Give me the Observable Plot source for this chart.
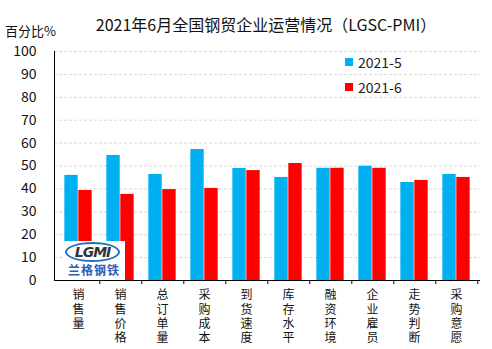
<!DOCTYPE html>
<html><head><meta charset="utf-8">
<script src="https://cdn.jsdelivr.net/npm/d3@7"></script>
<script src="https://cdn.jsdelivr.net/npm/@observablehq/plot@0.6"></script>
<style>
html,body{margin:0;padding:0;background:#fff;}
#wrap{position:relative;width:492px;height:349px;font-family:"Noto Sans CJK SC","Noto Sans",sans-serif;overflow:hidden;}
#title{position:absolute;left:0;width:532px;top:12px;text-align:center;font-size:16px;color:#111;white-space:nowrap;}
#unit{position:absolute;left:5px;top:21px;font-size:13px;color:#111;}
.leg{position:absolute;left:345px;font-size:14px;color:#222;display:flex;align-items:center;}
.leg span.sw{display:inline-block;width:8px;height:8px;margin-right:5px;}
#logo{position:absolute;left:62px;top:241px;width:63px;height:39px;background:#fff;}
#logo .ell{position:absolute;left:3px;top:1px;width:55px;height:20px;border-radius:50%;border:2px solid #1f6fc0;box-sizing:border-box;text-align:center;font:bold italic 14px/16px "DejaVu Sans",sans-serif;color:#333;letter-spacing:-1px;}
#logo .cn{position:absolute;left:2px;top:21px;width:60px;text-align:center;font:bold 12px/16px "Noto Sans CJK SC",sans-serif;color:#2a5db8;letter-spacing:1px;}
</style></head>
<body><div id="wrap">
<div id="title">2021年6月全国钢贸企业运营情况（LGSC-PMI）</div>
<div id="unit">百分比%</div>
<div id="chart"></div>
<div id="legend"></div>
<div id="logo"><div class="ell">LGMI</div><div class="cn">兰格钢铁</div></div>
</div>
<script>
const categories = ["销售量","销售价格","总订单量","采购成本","到货速度","库存水平","融资环境","企业雇员","走势判断","采购意愿"];
const seriesNames = ["2021-5","2021-6"];
const may2021 = [45.9,54.6,46.3,57.2,48.9,45.0,49.0,49.9,42.8,46.3];
const jun2021 = [39.3,37.6,39.7,40.2,48.0,51.1,49.0,49.0,43.7,45.0];
const yTicks = [0,10,20,30,40,50,60,70,80,90,100];
const colors = ["#00B0F0","#FF0000"];

const rows = [];
categories.forEach((c,i)=>{
  rows.push({category:c, series:seriesNames[0], value:may2021[i]});
  rows.push({category:c, series:seriesNames[1], value:jun2021[i]});
});

const W = 492, H = 349, mL = 54, mR = 12, mT = 51, mB = 69;
const step = (W - mL - mR) / categories.length;
const gap = step * 0.172, bw = step * 0.328;

const chart = Plot.plot({
  width: W, height: H,
  marginLeft: mL, marginRight: mR, marginTop: mT, marginBottom: mB,
  style: {fontFamily: '"Noto Sans CJK SC","Noto Sans",sans-serif', fontSize: "13px", color: "#111", background: "#fff"},
  x: {type: "band", domain: categories, padding: 0},
  y: {domain: [0, 100]},
  marks: [
    Plot.gridY({ticks: yTicks, stroke: "#d9d9d9", strokeOpacity: 1, strokeDasharray: "3,2"}),
    Plot.barY(rows.filter(d => d.series === seriesNames[0]), {x: "category", y: "value", fill: colors[0], insetLeft: gap, insetRight: gap + bw}),
    Plot.barY(rows.filter(d => d.series === seriesNames[1]), {x: "category", y: "value", fill: colors[1], insetLeft: gap + bw, insetRight: gap}),
    Plot.axisY({ticks: yTicks, tickSize: 0, tickPadding: 18, fontSize: 14, label: null}),
    Plot.axisX({tickSize: 0, tickPadding: 9, fontSize: 12, lineHeight: 1.17, label: null, tickFormat: d => d.split("").join("\n")}),
    Plot.axisX({tickSize: 4, tickFormat: () => "", label: null, dx: step / 2, stroke: "#000"}),
    Plot.ruleY([0], {stroke: "#000"}),
    Plot.frame({anchor: "left", stroke: "#000"})
  ]
});
document.getElementById("chart").appendChild(chart);

const leg = document.getElementById("legend");
seriesNames.forEach((s,i)=>{
  const d = document.createElement("div");
  d.className = "leg";
  d.style.top = (52 + i*25) + "px";
  d.innerHTML = `<span class="sw" style="background:${colors[i]}"></span>${s}`;
  leg.appendChild(d);
});
</script>
</body></html>
